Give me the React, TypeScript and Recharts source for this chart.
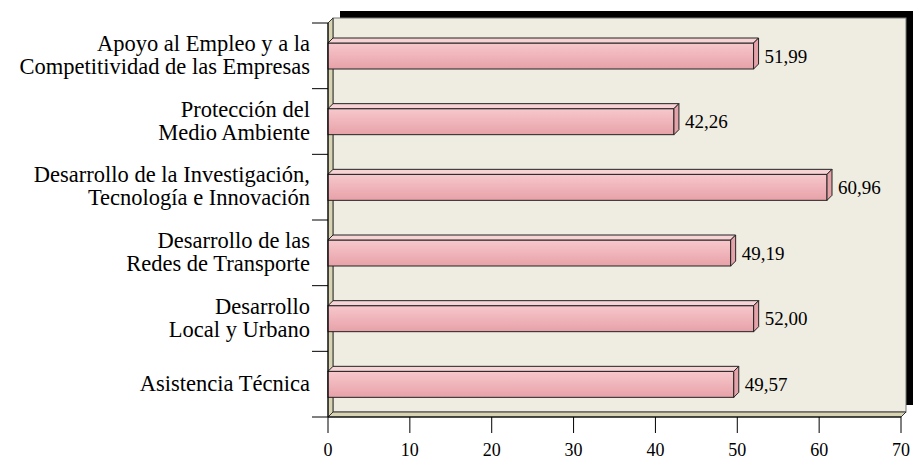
import React from 'react';
import { BarChart, Bar, XAxis, YAxis, CartesianGrid, LabelList, ReferenceArea } from 'recharts';

const categories = [
  'Apoyo al Empleo y a la|Competitividad de las Empresas',
  'Protección del|Medio Ambiente',
  'Desarrollo de la Investigación,|Tecnología e Innovación',
  'Desarrollo de las|Redes de Transporte',
  'Desarrollo|Local y Urbano',
  'Asistencia Técnica',
];
const values = [51.99, 42.26, 60.96, 49.19, 52.0, 49.57];
const xTicks = [0, 10, 20, 30, 40, 50, 60, 70];

const data = categories.map((name, i) => ({ name, value: values[i] }));

const FONT = "'Liberation Serif', 'Times New Roman', serif";
const D = 5; // depth offset

const Walls = (p: any) => {
  const { x, y, width, height } = p;
  const r = x + width;
  const b = y + height;
  return (
    <g>
      <defs>
        <linearGradient id="barFront" x1="0" y1="0" x2="0" y2="1">
          <stop offset="0%" stopColor="#f7c8cc" />
          <stop offset="100%" stopColor="#e7a1a8" />
        </linearGradient>
      </defs>
      <rect x={x + D + 7} y={y - D - 7} width={width} height={height} fill="#000" />
      <rect x={x + D} y={y - D} width={width} height={height} fill="#efece1" stroke="#777" strokeWidth={1} />
      <polygon
        points={`${x},${y} ${x + D},${y - D} ${x + D},${b - D} ${x},${b}`}
        fill="#d8d4b2"
        stroke="#333"
        strokeWidth={1}
      />
      <polygon
        points={`${x},${b} ${x + D},${b - D} ${r + D},${b - D} ${r},${b}`}
        fill="#d8d4b2"
        stroke="#333"
        strokeWidth={1}
      />
    </g>
  );
};

const GridLine = (p: any) => {
  const { x1, y1, y2, index } = p;
  if (index === 0 || index === xTicks.length - 1) return <g key={p.key} />;
  return (
    <line
      key={p.key}
      x1={x1 + D}
      x2={x1 + D}
      y1={y1 - D}
      y2={y2 - D}
      stroke="#444"
      strokeWidth={1.2}
      strokeDasharray="6 5"
    />
  );
};

const Bar3D = (p: any) => {
  const { x, y, width, height } = p;
  if (width == null) return null;
  const r = x + width;
  const b = y + height;
  return (
    <g>
      <rect x={x} y={y} width={width} height={height} fill="url(#barFront)" stroke="#222" strokeWidth={1} />
      <polygon
        points={`${x},${y} ${x + D},${y - D} ${r + D},${y - D} ${r},${y}`}
        fill="#f8d3d6"
        stroke="#222"
        strokeWidth={1}
      />
      <polygon
        points={`${r},${y} ${r + D},${y - D} ${r + D},${b - D} ${r},${b}`}
        fill="#e4a2a9"
        stroke="#222"
        strokeWidth={1}
      />
    </g>
  );
};

const CatTick = (p: any) => {
  const { x, y, payload, index } = p;
  const lines = String(payload.value).split('|');
  const half = payload.offset && payload.offset > 0 ? payload.offset : 65.67 / 2;
  const lh = 23;
  const start = y - 1 - ((lines.length - 1) * lh) / 2;
  return (
    <g>
      <line x1={x + 2} x2={x + 18} y1={y - half} y2={y - half} stroke="#000" strokeWidth={1} />
      {index === categories.length - 1 && (
        <line x1={x + 2} x2={x + 18} y1={y + half} y2={y + half} stroke="#000" strokeWidth={1} />
      )}
      {lines.map((l, i) => (
        <text
          key={i}
          x={x}
          y={start + i * lh}
          textAnchor="end"
          dominantBaseline="central"
          style={{ fontFamily: FONT, fontSize: 22.5 }}
          fill="#000"
        >
          {l}
        </text>
      ))}
    </g>
  );
};

const XTick = (p: any) => {
  const { x, y, payload } = p;
  return (
    <text
      x={x}
      y={y}
      dy="0.71em"
      textAnchor="middle"
      style={{ fontFamily: FONT, fontSize: 18 }}
      fill="#000"
    >
      {payload.value}
    </text>
  );
};

const ValueLabel = (p: any) => {
  const { x, y, width, height, value } = p;
  return (
    <text
      x={x + width + 11}
      y={y + height / 2}
      dominantBaseline="central"
      style={{ fontFamily: FONT, fontSize: 19 }}
      fill="#000"
    >
      {Number(value).toFixed(2).replace('.', ',')}
    </text>
  );
};

export default function App() {
  return (
    <div style={{ position: 'absolute', left: 0, top: 0, background: '#fff' }}>
      <BarChart
        width={914}
        height={460}
        data={data}
        layout="vertical"
        margin={{ top: 23, right: 13, bottom: 13, left: 8 }}
        barCategoryGap={0}
      >
        <ReferenceArea x1={0} x2={70} shape={<Walls />} ifOverflow="extendDomain" />
        <CartesianGrid horizontal={false} vertical={GridLine} stroke="none" />
        <XAxis
          type="number"
          domain={[0, 70]}
          ticks={xTicks}
          interval={0}
          tickSize={16}
          tickMargin={10}
          axisLine={{ stroke: '#000' }}
          tickLine={{ stroke: '#000' }}
          tick={<XTick />}
          height={30}
        />
        <YAxis
          type="category"
          dataKey="name"
          width={320}
          tickSize={16}
          tickMargin={2}
          tickLine={false}
          axisLine={{ stroke: '#000' }}
          tick={<CatTick />}
          interval={0}
        />
        <Bar dataKey="value" barSize={26} shape={<Bar3D />} isAnimationActive={false}>
          <LabelList dataKey="value" content={<ValueLabel />} />
        </Bar>
      </BarChart>
    </div>
  );
}
